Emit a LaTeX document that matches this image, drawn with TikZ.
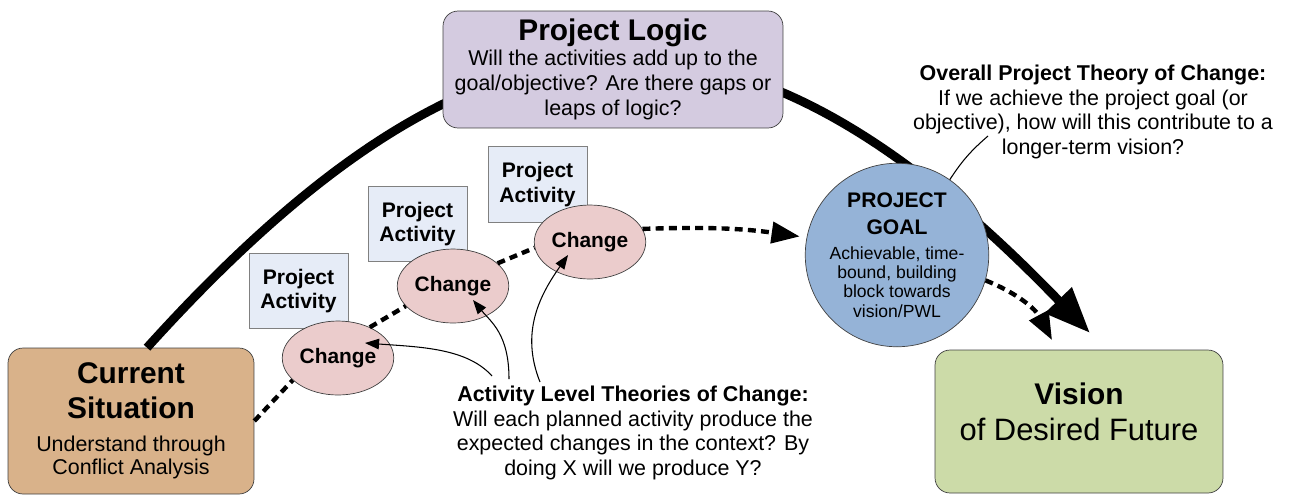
\documentclass[tikz,border=0pt]{standalone}
\usepackage{fontspec}
\setmainfont{Liberation Sans}
\usepackage{tikz}
\usetikzlibrary{shapes, arrows.meta, positioning, calc}
\definecolor{logicColor}{HTML}{D4CBE0}
\definecolor{currentColor}{HTML}{D9B28A}
\definecolor{visionColor}{HTML}{CCDBA8}
\definecolor{goalColor}{HTML}{95B3D7}
\definecolor{activityColor}{HTML}{E6ECF7}
\definecolor{changeColor}{HTML}{EBCCCC}
\tikzstyle{bigarrow} = [line width=5pt, -{Triangle[length=26pt, width=20pt]}]
\tikzstyle{dotline} = [line width=2.5pt, dash pattern=on 4.5pt off 3pt]
\tikzstyle{dotarrow} = [dotline, -{Triangle[length=16pt, width=12pt]}]
\tikzstyle{thinarrow} = [line width=0.6pt, -{Triangle[length=8pt, width=6pt]}]

\begin{document}
\begin{tikzpicture}[
    x=0.02cm, y=-0.02cm,
    box/.style={draw=black!75, rectangle, rounded corners=0.3cm, inner sep=0pt, align=center},
    logic/.style={box, fill=logicColor, minimum width=6.8cm, minimum height=2.34cm, font=\fontsize{12.2}{14.3}\selectfont},
    current/.style={box, fill=currentColor, minimum width=4.92cm, minimum height=2.92cm, font=\fontsize{12.2}{13.6}\selectfont},
    vision/.style={box, fill=visionColor, minimum width=5.76cm, minimum height=2.86cm, font=\fontsize{17.6}{20.4}\selectfont},
    goal/.style={draw=black!75, circle, fill=goalColor, minimum size=3.54cm, inner sep=0pt, align=center, font=\fontsize{10}{11}\selectfont},
    activity/.style={draw=black!50, rectangle, fill=activityColor, minimum width=1.98cm, minimum height=1.51cm, inner sep=0pt, align=center, font=\bfseries\fontsize{12}{13.9}\selectfont},
    change/.style={draw=black!75, ellipse, fill=changeColor, minimum width=2.23cm, minimum height=1.48cm, inner sep=0pt, font=\bfseries\fontsize{11.9}{14}\selectfont},
    note/.style={align=center, inner sep=0pt, font=\fontsize{12.2}{14}\selectfont},
    thinline/.style={line width=0.6pt}
]
\useasboundingbox (0,0) rectangle (1290,495);

% Start and end
\node[current] (cur) at (131,421) {{\fontsize{17}{19.8}\selectfont\bfseries Current}\\[6.2pt]{\fontsize{17}{19.8}\selectfont\bfseries Situation}\\[5.1pt]Understand through\\Conflict Analysis};
\node[vision] (vis) at (1079,421.5) {{\fontsize{17}{20.4}\selectfont\bfseries Vision}\\of Desired Future\\[-9pt]\mbox{}};

% Big arc, under the goal and the logic box
\coordinate (arcstart) at ($(cur.north)+(16,0)$);
\coordinate (vtip) at (1090,333);
\draw[bigarrow] (arcstart) .. controls (488,-30) and (740,-30) .. (vtip);

% Goal
\node[goal] (goal) at (897,255) {{\bfseries\fontsize{12}{15.3}\selectfont PROJECT}\\[4.3pt]{\bfseries\fontsize{12}{15.3}\selectfont GOAL}\\[3.2pt]Achievable, time-\\bound, building\\block towards\\vision/PWL};

\node[logic] (logic) at (613,69.5) {{\bfseries\fontsize{17}{20}\selectfont Project Logic}\\Will the activities add up to the\\goal/objective? Are there gaps or\\leaps of logic?};

% Activities
\node[activity] (pa1) at (298.5,291) {Project\\Activity};
\node[activity] (pa2) at (417.5,224) {Project\\Activity};
\node[activity] (pa3) at (537.5,184.5) {Project\\Activity};

% Changes
\node[change] (ch1) at (338,358) {Change};
\node[change] (ch2) at (453,286) {Change};
\node[change] (ch3) at (590,242) {Change};

% Notes
\node[note] (theory) at (1093,112) {\textbf{Overall Project Theory of Change:}\\If we achieve the project goal (or\\objective), how will this contribute to a\\longer-term vision?};
\node[note] (actlevel) at (633,433) {\textbf{Activity Level Theories of Change:}\\Will each planned activity produce the\\expected changes in the context? By\\doing X will we produce Y?};

% Dotted chain
\draw[dotline] (cur.east) -- (ch1.206);
\draw[dotline] (ch1.44) -- (ch2.203);
\draw[dotline] (ch2.27) -- (ch3.186);
\draw[dotarrow, shorten >=0.14cm] (ch3.14) to[bend left=5] (goal.169);
\coordinate (dtip) at (1052,340);
\draw[dotarrow] (goal.-16) to[bend left=20] (dtip);

% Theory lines
\coordinate (p1) at (492,376);
\coordinate (p2) at (509,379);
\coordinate (p3) at (540,382);
\coordinate (q1) at (988,136);
\draw[thinarrow] (p1) .. controls +(-25,-28) and +(55,4) .. ($(ch1.center)+(27,-15)$);
\draw[thinarrow] (p2) .. controls +(0,-45) and +(18,22) .. ($(ch2.center)+(20,14)$);
\draw[thinarrow] (p3) .. controls +(-20,-50) and +(-28,40) .. ($(ch3.center)+(-22,13)$);
\draw[thinline] (goal.55) to[bend left=8] (q1);
\end{tikzpicture}
\end{document}
